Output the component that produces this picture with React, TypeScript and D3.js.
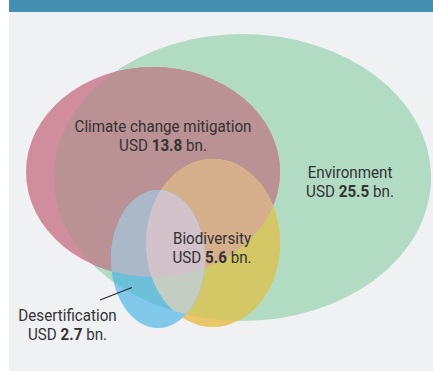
import React from "react";
import * as d3 from "d3";

// ---- data ----
const categories = ["Environment", "Climate change mitigation", "Biodiversity", "Desertification"];
const valuesBn = [25.5, 13.8, 5.6, 2.7];
const currency = "USD";
const unit = "bn.";

// ---- layout (pixel geometry of the Euler ellipses, in chart coords) ----
const W = 433;
const H = 371;
const keys = ["G", "R", "Y", "B"];
const ellipseCx = [242.5, 153, 213, 158];
const ellipseCy = [177.5, 172, 243, 259];
const ellipseRx = [188.5, 127, 67, 47];
const ellipseRy = [143.5, 105, 84, 69];

// label anchors
const labelX = [350, 163, 212, 67.5];
const labelY = [178, 132, 244, 321];

// region colours (painted in order; later overwrite earlier)
const regions: { sets: string[]; color: string }[] = [
  { sets: ["G"], color: "#b2dbc3" },
  { sets: ["R"], color: "#d08d9e" },
  { sets: ["R", "G"], color: "#ba9194" },
  { sets: ["Y"], color: "#eac666" },
  { sets: ["Y", "G"], color: "#d4c766" },
  { sets: ["Y", "R", "G"], color: "#d6b08c" },
  { sets: ["B"], color: "#80c9ea" },
  { sets: ["B", "G"], color: "#6cc1d9" },
  { sets: ["B", "R", "G"], color: "#aab8c8" },
  { sets: ["B", "Y", "G"], color: "#c4cdc2" },
  { sets: ["B", "Y", "R", "G"], color: "#d2c2c9" },
];

const fmt = d3.format(".1f");

function EllipseShape({ i, fill }: { i: number; fill?: string }) {
  return <ellipse cx={ellipseCx[i]} cy={ellipseCy[i]} rx={ellipseRx[i]} ry={ellipseRy[i]} fill={fill} />;
}

function Region({ sets, color }: { sets: string[]; color: string }) {
  const idx = sets.map((k) => keys.indexOf(k));
  let node: React.ReactNode = <EllipseShape i={idx[0]} fill={color} />;
  for (let j = 1; j < idx.length; j++) {
    node = <g clipPath={`url(#clip-${keys[idx[j]]})`}>{node}</g>;
  }
  return <>{node}</>;
}

export default function App() {
  const font = "Roboto, 'Liberation Sans', Arial, sans-serif";
  return (
    <svg width={W} height={H} style={{ position: "absolute", left: 0, top: 0 }}>
      <defs>
        {keys.map((k, i) => (
          <clipPath id={`clip-${k}`} key={k}>
            <EllipseShape i={i} />
          </clipPath>
        ))}
      </defs>
      <rect x={9} y={0} width={W - 9} height={H} fill="#f0f1f3" />
      <rect x={9} y={0} width={W - 9} height={12} fill="#4590b0" />
      {regions.map((r, i) => (
        <Region key={i} sets={r.sets} color={r.color} />
      ))}
      <line x1={100} y1={300} x2={132} y2={287.5} stroke="#2b2b2b" strokeWidth={1.3} />
      {categories.map((c, i) => (
        <g key={c} transform={`translate(${labelX[i]},${labelY[i]}) scale(0.92,1)`}>
          <text
            x={0}
            y={0}
            textAnchor="middle"
            fontFamily={font}
            fontSize={16.5}
            fill="#333333"
          >
            <tspan x={0}>{c}</tspan>
            <tspan x={0} dy={19}>
              {currency} <tspan fontWeight="bold">{fmt(valuesBn[i])}</tspan> {unit}
            </tspan>
          </text>
        </g>
      ))}
    </svg>
  );
}
